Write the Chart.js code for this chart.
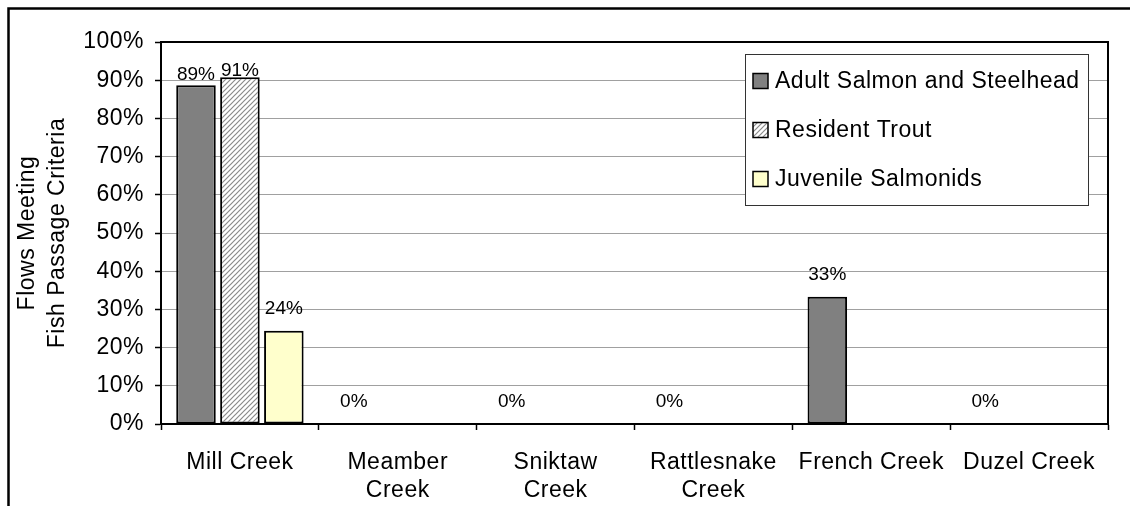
<!DOCTYPE html>
<html>
<head>
<meta charset="utf-8">
<script src="https://cdn.jsdelivr.net/npm/chart.js@4.4.1/dist/chart.umd.min.js"></script>
<style>
  html, body { margin: 0; padding: 0; background: #fff; }
  #wrap { width: 1130px; height: 506px; position: relative; }
</style>
</head>
<body>
<div id="wrap"><canvas id="fishChart"></canvas></div>
<script>
// creeks (multi-line where the original wraps)
const creeks = ['Mill Creek', ['Meamber', 'Creek'], ['Sniktaw', 'Creek'], ['Rattlesnake', 'Creek'], 'French Creek', 'Duzel Creek'];
const seriesNames = ['Adult Salmon and Steelhead', 'Resident Trout', 'Juvenile Salmonids'];

// percent of flows meeting criteria
const adultSalmon = [88.7, 0, 0, 0, 33.3, 0];
const residentTrout = [90.8, null, null, null, null, null];
const juvenileSalmonids = [24.4, null, null, null, null, null];

const yTicks = [0, 10, 20, 30, 40, 50, 60, 70, 80, 90, 100];
const axisTitle = ['Flows Meeting', 'Fish Passage Criteria'];

const FONT = 'Liberation Sans, Arial, sans-serif';

function makeHatch() {
  const c = document.createElement('canvas');
  c.width = 5; c.height = 5;
  const g = c.getContext('2d');
  g.fillStyle = '#fff';
  g.fillRect(0, 0, 5, 5);
  g.strokeStyle = '#8a8a8a';
  g.lineWidth = 1.2;
  g.beginPath();
  g.moveTo(-1, 6); g.lineTo(6, -1);
  g.moveTo(-1, 1); g.lineTo(1, -1);
  g.moveTo(4, 6); g.lineTo(6, 4);
  g.stroke();
  return g.createPattern(c, 'repeat');
}
const hatch = makeHatch();

const fills = ['#808080', hatch, '#ffffcc'];

// slightly wider text like the original rendering
const spacingPlugin = {
  id: 'spacing',
  beforeUpdate(chart) { chart.ctx.letterSpacing = '0.5px'; },
  beforeDraw(chart) { chart.ctx.letterSpacing = '0.5px'; }
};

const framePlugin = {
  id: 'frame',
  beforeDraw(chart) {
    const ctx = chart.ctx;
    ctx.save();
    ctx.fillStyle = '#fff';
    ctx.fillRect(0, 0, chart.width, chart.height);
    ctx.strokeStyle = '#000';
    ctx.lineWidth = 2.5;
    ctx.strokeRect(8.5, 8.5, chart.width + 50, chart.height + 50);
    ctx.restore();
  },
  afterDraw(chart) {
    const a = chart.chartArea;
    const ctx = chart.ctx;
    ctx.save();
    ctx.strokeStyle = '#000';
    ctx.lineWidth = 2;
    ctx.strokeRect(a.left, a.top, a.right - a.left, a.bottom - a.top);
    ctx.restore();
  }
};

const valueLabels = {
  id: 'valueLabels',
  afterDatasetsDraw(chart, args, opts) {
    const ctx = chart.ctx;
    ctx.save();
    ctx.letterSpacing = '0px';
    ctx.font = '19px ' + FONT;
    ctx.fillStyle = '#000';
    ctx.textAlign = 'center';
    ctx.textBaseline = 'middle';
    chart.data.datasets.forEach((ds, i) => {
      const meta = chart.getDatasetMeta(i);
      meta.data.forEach((bar, j) => {
        const v = ds.data[j];
        if (v === null || v === undefined) return;
        const key = i + ':' + j;
        const lift = opts.lift[key] !== undefined ? opts.lift[key] : opts.defaultLift;
        ctx.fillText(Math.round(v) + '%', bar.x, bar.y - lift);
      });
    });
    ctx.restore();
  }
};

const boxLegend = {
  id: 'boxLegend',
  afterDraw(chart, args, opts) {
    const a = chart.chartArea;
    const ctx = chart.ctx;
    const right = a.right - opts.inset;
    const left = right - opts.width;
    const top = a.top + opts.top;
    ctx.save();
    ctx.fillStyle = '#fff';
    ctx.fillRect(left, top, opts.width, opts.height);
    ctx.strokeStyle = '#333';
    ctx.lineWidth = 1;
    ctx.strokeRect(left + 0.5, top + 0.5, opts.width, opts.height);
    ctx.font = '23px ' + FONT;
    ctx.textBaseline = 'middle';
    ctx.textAlign = 'left';
    chart.data.datasets.forEach((ds, i) => {
      const cy = top + opts.first + i * opts.rowGap;
      ctx.fillStyle = ds.backgroundColor;
      ctx.fillRect(left + 8, cy - 7.5, 15, 15);
      ctx.strokeStyle = '#000';
      ctx.lineWidth = 1.5;
      ctx.strokeRect(left + 8, cy - 7.5, 15, 15);
      ctx.fillStyle = '#000';
      ctx.fillText(ds.label, left + 30, cy + 1);
    });
    ctx.restore();
  }
};

const ctx = document.getElementById('fishChart').getContext('2d');
new Chart(ctx, {
  type: 'bar',
  data: {
    labels: creeks,
    datasets: [adultSalmon, residentTrout, juvenileSalmonids].map((vals, i) => ({
      label: seriesNames[i],
      data: vals,
      backgroundColor: fills[i],
      borderColor: '#000',
      borderWidth: 2,
      borderSkipped: false,
      categoryPercentage: 0.835,
      barPercentage: 0.9
    }))
  },
  options: {
    responsive: true,
    maintainAspectRatio: false,
    animation: false,
    layout: { padding: { left: 0, top: 42, right: 22, bottom: 0 } },
    plugins: {
      legend: { display: false },
      tooltip: { enabled: false },
      valueLabels: { defaultLift: 22, lift: { '0:0': 10, '1:0': 6 } },
      boxLegend: { inset: 20, top: 12, width: 343, height: 151, first: 27, rowGap: 49 }
    },
    scales: {
      x: {
        afterFit(scale) { scale.height = 82; },
        grid: { drawOnChartArea: false, tickLength: 6, tickColor: '#000', tickWidth: 1.5, offset: true },
        border: { color: '#000', width: 2 },
        ticks: { color: '#000', padding: 19, maxRotation: 0, autoSkip: false,
                 font: { family: FONT, size: 23, lineHeight: 1.22 } }
      },
      y: {
        min: 0,
        max: 100,
        afterFit(scale) { scale.width = 161; },
        afterBuildTicks(scale) { scale.ticks = yTicks.map(v => ({ value: v })); },
        grid: { color: '#a0a0a0', lineWidth: 1, tickLength: 6, tickColor: '#000', tickWidth: 1.5 },
        border: { color: '#000', width: 2 },
        ticks: { color: '#000', padding: 11, callback: v => v + '%',
                 font: { family: FONT, size: 23 } },
        title: { display: true, text: axisTitle, color: '#000', padding: { top: 13, bottom: 0 },
                 font: { family: FONT, size: 23, lineHeight: 1.3 } }
      }
    }
  },
  plugins: [spacingPlugin, framePlugin, valueLabels, boxLegend]
});
</script>
</body>
</html>
